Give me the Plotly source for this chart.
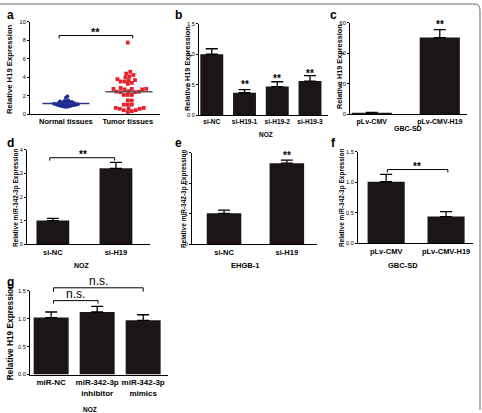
import plotly.graph_objects as go

W, H = 482, 413
FONT = "Liberation Sans, Arial, sans-serif"
BAR = "#1c1515"

# ---------------- data ----------------
normal_vals = [1.95, 1.8, 1.5, 1.45, 1.4, 1.4, 1.35, 1.3, 1.3, 1.25, 1.25, 1.2, 1.2, 1.2,
               1.15, 1.15, 1.15, 1.1, 1.1, 1.1, 1.1, 1.05, 1.05, 1.05, 1.0, 1.0, 1.0,
               0.95, 0.95, 0.9, 0.9, 0.85, 0.85, 0.8]
tumor_vals = [7.75, 4.6, 4.4, 4.25, 4.1, 4.0, 3.8, 3.7, 3.7, 3.55, 3.55, 3.4, 3.3, 2.85,
              2.75, 2.75, 2.7, 2.7, 2.75, 2.5, 2.45, 2.4, 2.4, 2.45, 2.1, 2.1, 2.1, 1.5,
              1.5, 1.05, 1.05, 1.05, 0.7, 0.65, 0.6, 0.7, 0.6, 0.45, 0.35, 0.45, 0.25]
a_cats = ["Normal tissues", "Tumor tissues"]

b_cats = ["si-NC", "si-H19-1", "si-H19-2", "si-H19-3"]
b_vals = [1.0, 0.37, 0.47, 0.56]
b_err = [0.09, 0.05, 0.08, 0.09]

c_cats = ["pLv-CMV", "pLv-CMV-H19"]
c_vals = [1.0, 50.3]
c_err = [0.3, 5.2]

d_cats = ["si-NC", "si-H19"]
d_vals = [1.01, 3.22]
d_err = [0.09, 0.25]

e_cats = ["si-NC", "si-H19"]
e_vals = [1.02, 2.66]
e_err = [0.1, 0.1]

f_cats = ["pLv-CMV", "pLv-CMV-H19"]
f_vals = [1.01, 0.44]
f_err = [0.12, 0.08]

g_cats = ["miR-NC", "miR-342-3p<br>inhibitor", "miR-342-3p<br>mimics"]
g_vals = [1.02, 1.12, 0.97]
g_err = [0.1, 0.1, 0.1]


def PX(x):
    return x / W


def PY(y):
    return 1 - y / H


fig = go.Figure()
layout = dict(width=W, height=H, margin=dict(l=0, r=0, t=0, b=0),
              paper_bgcolor="white", plot_bgcolor="white", showlegend=False,
              hovermode=False,
              font=dict(family=FONT, color="black"))
annotations = []
shapes = []


def add_axes(i, box, xr, yr, ytv, ytt, cats, catsize=7.5, ytsize=5.6):
    l, r, t, b = box
    s = "" if i == 1 else str(i)
    layout["xaxis" + s] = dict(domain=[l / W, r / W], anchor="y" + s, range=xr,
                               showline=True, linecolor="black", linewidth=1.2,
                               ticks="", tickvals=list(range(len(cats))), ticktext=cats,
                               tickfont=dict(family=FONT, size=catsize, color="black", weight="bold"),
                               showgrid=False, zeroline=False, fixedrange=True)
    layout["yaxis" + s] = dict(domain=[1 - b / H, 1 - t / H], anchor="x" + s, range=yr,
                               showline=True, linecolor="black", linewidth=1.2,
                               ticks="outside", ticklen=2, tickwidth=1, tickcolor="black",
                               tickvals=ytv, ticktext=ytt,
                               tickfont=dict(family=FONT, size=ytsize, color="black"),
                               showgrid=False, zeroline=False, fixedrange=True)
    return ("x" + s, "y" + s)


def add_bars(ax, vals, err, width):
    fig.add_trace(go.Bar(x=list(range(len(vals))), y=vals, width=width,
                         marker=dict(color=BAR, line=dict(width=0)),
                         error_y=dict(type="data", array=err, arrayminus=[0] * len(err),
                                      symmetric=False, color="black", thickness=1.3, width=6),
                         xaxis=ax[0], yaxis=ax[1]))


def ytitle(text, x, yc, size=7.5):
    annotations.append(dict(text=text, x=PX(x), y=PY(yc), xref="paper", yref="paper",
                            textangle=-90, showarrow=False, xanchor="center", yanchor="middle",
                            font=dict(family=FONT, size=size, color="black", weight="bold")))


def label(text, x, y, size=7, bold=True, xref="paper", xval=None):
    annotations.append(dict(text=text, x=PX(x) if xval is None else xval, y=PY(y),
                            xref=xref, yref="paper", showarrow=False,
                            xanchor="center", yanchor="middle",
                            font=dict(family=FONT, size=size, color="black",
                                      weight="bold" if bold else "normal")))


def bracket(xref, x0, x1, ytop, drop=3):
    path = "M {a},{b} L {a},{c} L {d},{c} L {d},{b}".format(
        a=x0, b=PY(ytop + drop), c=PY(ytop), d=x1)
    shapes.append(dict(type="path", path=path, xref=xref, yref="paper",
                       line=dict(color="black", width=1)))


def swarm(vals, py, diam, step=0.8):
    # beeswarm layout: returns horizontal pixel offsets for each value
    order = sorted(range(len(vals)), key=lambda k: vals[k])
    placed = []
    off = [0.0] * len(vals)
    cands = [0]
    for s in range(1, 80):
        cands += [s * step, -s * step]
    for k in order:
        y = vals[k] * py
        for c in cands:
            if all((c - px) ** 2 + (y - pyy) ** 2 >= diam ** 2 for px, pyy in placed):
                off[k] = c
                placed.append((c, y))
                break
    return off


# ---------------- panel a ----------------
ax_a = add_axes(1, (30, 160, 19, 113), [-0.58, 1.52], [0, 10],
                [0, 2, 4, 6, 8, 10], ["0", "2", "4", "6", "8", "10"], a_cats, 7.5)
pyA = 94 / 10.0
pxA = 62.0
n_off = swarm(normal_vals, pyA, 1.9, 0.5)
t_off = swarm(tumor_vals, pyA, 3.8)
fig.add_trace(go.Scatter(x=[0 + o / pxA for o in n_off], y=normal_vals, mode="markers",
                         marker=dict(symbol="circle", size=3.8, color="#1d2a8f"),
                         xaxis=ax_a[0], yaxis=ax_a[1], cliponaxis=False))
fig.add_trace(go.Scatter(x=[1 + o / pxA for o in t_off], y=tumor_vals, mode="markers",
                         marker=dict(symbol="square", size=3.8, color="#e8202a"),
                         xaxis=ax_a[0], yaxis=ax_a[1], cliponaxis=False))
n_mean = sum(normal_vals) / len(normal_vals)
t_mean = sum(tumor_vals) / len(tumor_vals)
fig.add_trace(go.Scatter(x=[-0.38, 0.38], y=[n_mean, n_mean], mode="lines",
                         line=dict(color="#2a3590", width=1.5),
                         xaxis=ax_a[0], yaxis=ax_a[1]))
fig.add_trace(go.Scatter(x=[0.64, 1.4], y=[t_mean, t_mean], mode="lines",
                         line=dict(color="#555", width=1.5),
                         xaxis=ax_a[0], yaxis=ax_a[1]))
bracket(ax_a[0], -0.11, 1.08, 33, 3)
label("**", 0, 29, 11, xref=ax_a[0], xval=0.48)
ytitle("Relative H19 Expression", 9, 67, 7.7)
label("a", 10, 12, 12)

# ---------------- panel b ----------------
ax_b = add_axes(2, (199, 328, 21, 114), [-0.39, 3.55], [0, 1.5],
                [0, 0.5, 1.0, 1.5], ["0.0", "0.5", "1.0", "1.5"], b_cats, 6.5)
add_bars(ax_b, b_vals, b_err, 0.7)
for i, yy in zip([1, 2, 3], [83, 77, 72]):
    label("**", 0, yy, 10, xref=ax_b[0], xval=i)
ytitle("Relative H19 Expression", 187, 67, 7.3)
label("NOZ", 266, 133, 6.5)
label("b", 178, 12, 12)

# ---------------- panel c ----------------
ax_c = add_axes(3, (350, 467, 20, 113), [-0.32, 1.4], [0, 60],
                [0, 20, 40, 60], ["0", "20", "40", "60"], c_cats, 7)
add_bars(ax_c, c_vals, c_err, 0.59)
label("**", 0, 22, 10, xref=ax_c[0], xval=1)
ytitle("Relative H19 Expression", 339, 65, 7.3)
label("GBC-SD", 408, 127, 7)
label("c", 333, 12, 12)

# ---------------- panel d ----------------
ax_d = add_axes(4, (27, 150, 149, 245), [-0.41, 1.54], [0, 4],
                [0, 1, 2, 3, 4], ["0", "1", "2", "3", "4"], d_cats, 7.5)
add_bars(ax_d, d_vals, d_err, 0.52)
bracket(ax_d[0], -0.05, 0.98, 157, 3)
label("**", 0, 154, 10, xref=ax_d[0], xval=0.47)
ytitle("Relative miR-342-3p Expression", 16, 198, 6.5)
label("NOZ", 82, 266, 7)
label("d", 10, 142, 12)

# ---------------- panel e ----------------
ax_e = add_axes(5, (192, 317, 152, 245), [-0.51, 1.48], [0, 3],
                [0, 1, 2, 3], ["0", "1", "2", "3"], e_cats, 7.5)
add_bars(ax_e, e_vals, e_err, 0.55)
label("**", 0, 155, 10, xref=ax_e[0], xval=1)
ytitle("Relative miR-342-3p Expression", 184, 199, 6.5)
label("EHGB-1", 245, 266, 7.5)
label("e", 178, 142, 12)

# ---------------- panel f ----------------
ax_f = add_axes(6, (358, 473, 151, 244), [-0.47, 1.45], [0, 1.5],
                [0, 0.5, 1.0, 1.5], ["0.0", "0.5", "1.0", "1.5"], f_cats, 7.5)
add_bars(ax_f, f_vals, f_err, 0.62)
bracket(ax_f[0], 0.02, 1.03, 169, 3)
label("**", 0, 166, 10, xref=ax_f[0], xval=0.52)
ytitle("Relative miR-342-3p Expression", 342, 198, 6.5)
label("GBC-SD", 403, 266, 7.5)
label("f", 333, 142, 12)

# ---------------- panel g ----------------
ax_g = add_axes(7, (30, 168, 292, 377), [-0.46, 2.54], [0, 1.5],
                [0, 0.5, 1.0, 1.5], ["0.0", "0.5", "1.0", "1.5"], g_cats, 8)
add_bars(ax_g, g_vals, g_err, 0.76)
bracket(ax_g[0], 0.05, 2.0, 289, 4)
bracket(ax_g[0], 0.05, 1.02, 302, 3)
label("n.s.", 0, 282, 12, bold=False, xref=ax_g[0], xval=1.03)
label("n.s.", 0, 295, 12, bold=False, xref=ax_g[0], xval=0.53)
ytitle("Relative H19 Expression", 10, 334, 8.3)
label("NOZ", 90, 412, 6.5)
label("g", 10, 283, 12)

# figure border (rounded top-right corner)
border = "M {x0},{y0} L {x1},{y0} Q {x2},{y0} {x2},{y1} L {x2},{y2}".format(
    x0=PX(0), y0=PY(1), x1=PX(474), x2=PX(480), y1=PY(7), y2=PY(413))
shapes.append(dict(type="path", path=border, xref="paper", yref="paper",
                   line=dict(color="#666", width=1)))

layout["annotations"] = annotations
layout["shapes"] = shapes
fig.update_layout(**layout)
fig.write_html("out.html")
